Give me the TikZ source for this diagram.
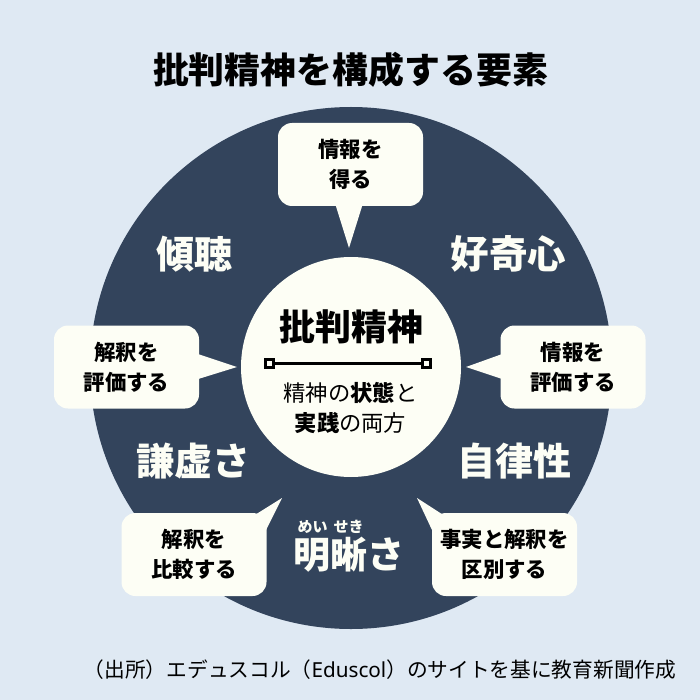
\documentclass[tikz,border=0pt]{standalone}
\usepackage{fontspec}
\setmainfont{Noto Sans CJK JP}
\newfontfamily\latinfont{Noto Sans}
\usetikzlibrary{positioning,calc}

\definecolor{paper}{HTML}{DFE9F3}
\definecolor{navy}{HTML}{33445C}
\definecolor{cream}{HTML}{FDFEF5}

\tikzset{
    bubble/.style={fill=cream, rounded corners=14pt, minimum width=145pt, minimum height=83pt,
        inner sep=0pt, align=center, font=\fontsize{21.4}{30}\selectfont\bfseries},
    word/.style={text=cream, inner sep=0pt, font=\fontsize{38}{38}\selectfont\bfseries},
    handle/.style={draw=black, line width=2.4pt, fill=cream, minimum size=8pt, inner sep=0pt},
}

\begin{document}
\begin{tikzpicture}[x=1pt,y=-1pt]
    \useasboundingbox (0,0) rectangle (700,700);
    \fill[paper] (0,0) rectangle (700,700);
    \fill[navy] (351,368) circle (261pt);

    \node (title) [inner sep=0pt, font=\fontsize{35.9}{36}\selectfont\bfseries] at (350.5,70) {批判精神を構成する要素};

    % the speech bubbles, tails first
    \coordinate (TopTip) at (349,248);
    \coordinate (LeftTip) at (237,367);
    \coordinate (RightTip) at (466,367);
    \coordinate (LowLeftTip) at (282,498);
    \coordinate (LowRightTip) at (417,498);

    \fill[cream] (334,200) -- (TopTip) -- (364,200) -- cycle;
    \fill[cream] (195,353) -- (LeftTip) -- (195,380) -- cycle;
    \fill[cream] (505,353) -- (RightTip) -- (505,380) -- cycle;
    \fill[cream] (250,518) -- (LowLeftTip) -- (266,530) -- (255,530) -- cycle;
    \fill[cream] (448,518) -- (LowRightTip) -- (432,530) -- (444,530) -- cycle;

    \node (GetInfo) [bubble] at (350.5,164.5) {情報を\\得る};
    \node (RateLeft) [bubble] at (126.5,367) {解釈を\\評価する};
    \node (RateRight) [bubble] at (573,367) {情報を\\評価する};
    \node (Compare) [bubble] at (194,554.5) {解釈を\\比較する};
    \node (Separate) [bubble] at (504.5,554.5) {事実と解釈を\\区別する};

    % the middle
    \node (Core) [circle, fill=cream, minimum size=220pt, inner sep=0pt] at (351,367) {};
    \node (CoreTitle) [inner sep=0pt, font=\fontsize{36}{36}\selectfont\bfseries] at (351,327) {批判精神};
    \node (HandleL) [handle] at (269.5,363.5) {};
    \node (HandleR) [handle] at (426.5,363.5) {};
    \draw[line width=2.2pt] (HandleL) -- (HandleR);
    \node (CoreText) [inner sep=0pt, align=center, font=\fontsize{22.3}{30}\selectfont] at (350.5,408)
        {精神の\textbf{状態}と\\\textbf{実践}の両方};

    % the words round the ring
    \node (Listen) [word] at (194,254) {傾聴};
    \node (Curious) [word, font=\fontsize{38.5}{38}\selectfont\bfseries] at (508.5,254) {好奇心};
    \node (Humble) [word] at (193.5,461) {謙虚さ};
    \node (Autonomy) [word] at (514.5,461) {自律性};
    \node (Clear) [word, font=\fontsize{37}{37}\selectfont\bfseries] at (348.5,555) {明晰さ};
    \node (Ruby) [word, font=\fontsize{15}{15}\selectfont\bfseries] at (330.5,527) {めい\hspace{6pt}せき};

    \node (Source) [inner sep=0pt, font=\fontsize{20.7}{20}\selectfont] at (380,670)
        {（出所）エデュスコル（{\latinfont Eduscol}）のサイトを基に教育新聞作成};
\end{tikzpicture}
\end{document}
